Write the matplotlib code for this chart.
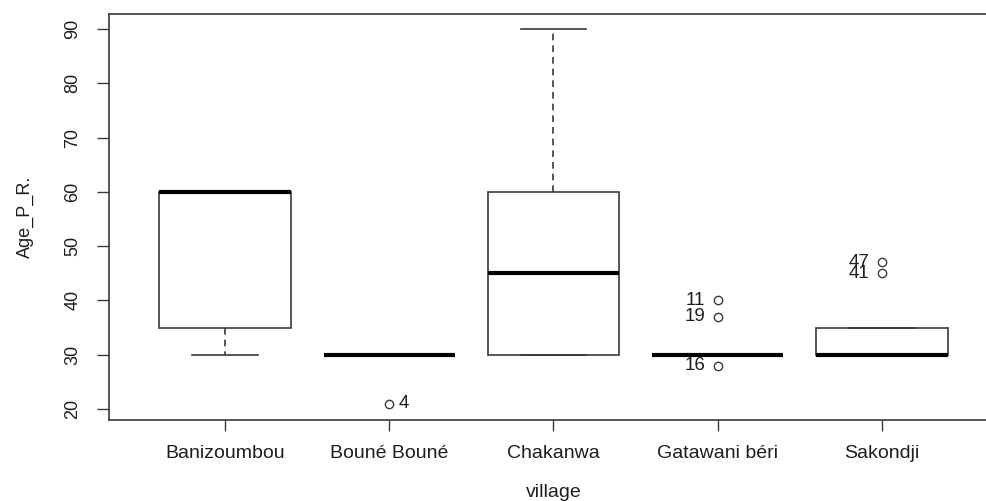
import matplotlib
matplotlib.use("Agg")
import matplotlib.pyplot as plt

plt.rcParams["font.family"] = ["Liberation Sans", "DejaVu Sans"]

# per-village summary of Age_P_R.
villages = ["Banizoumbou", "Bouné Bouné", "Chakanwa", "Gatawani béri", "Sakondji"]
q1 = [35, 30, 30, 30, 30]
med = [60, 30, 45, 30, 30]
q3 = [60, 30, 60, 30, 35]
whis_lo = [30, 30, 30, 30, 30]
whis_hi = [60, 30, 90, 30, 35]

# outliers: (village index, value, row id)
out_village = [1, 3, 3, 3, 4, 4]
out_value = [21, 40, 37, 28, 47, 45]
out_id = ["4", "11", "19", "16", "47", "41"]
out_side = ["right", "left", "left", "left", "left", "left"]

line_col = "#3a3a3a"
text_col = "#1e1e1e"

fig = plt.figure(figsize=(9.87, 5.01), dpi=100)
ax = fig.add_axes([109 / 987, 81 / 501, 889 / 987, 406 / 501])

stats = []
for i, name in enumerate(villages):
    fl = [v for v, k in zip(out_value, out_village) if k == i]
    stats.append(dict(label=name, q1=q1[i], med=med[i], q3=q3[i],
                      whislo=whis_lo[i], whishi=whis_hi[i], fliers=fl))

ax.bxp(stats, positions=range(1, 6), widths=0.8, patch_artist=True,
       boxprops=dict(facecolor="white", edgecolor=line_col, linewidth=1.2),
       medianprops=dict(color="black", linewidth=3, solid_capstyle="butt"),
       whiskerprops=dict(color=line_col, linewidth=1.2, linestyle=(0, (4, 3))),
       capprops=dict(color=line_col, linewidth=1.2),
       capwidths=0.4,
       flierprops=dict(marker="o", markersize=6, markerfacecolor="none",
                       markeredgecolor=line_col, markeredgewidth=1))

for k, v, lab, side in zip(out_village, out_value, out_id, out_side):
    dx = 7 if side == "right" else -9
    ax.annotate(lab, (k + 1, v), xytext=(dx, 0), textcoords="offset points",
                ha="left" if side == "right" else "right", va="center",
                fontsize=13.5, color=text_col)

ax.set_xlim(0.294, 5.706)
ax.set_ylim(17.97, 92.76)
ax.set_yticks([20, 30, 40, 50, 60, 70, 80, 90])
ax.set_yticklabels(["20", "30", "40", "50", "60", "70", "80", "90"],
                   rotation=90, va="center")
ax.set_xticks(range(1, 6))
ax.set_xticklabels(villages)

ax.tick_params(axis="y", length=9, width=1, color=line_col, pad=11,
               labelsize=13, labelcolor=text_col)
ax.tick_params(axis="x", length=8, width=1, color=line_col, pad=10,
               labelsize=14, labelcolor=text_col)
for s in ax.spines.values():
    s.set_color(line_col)
    s.set_linewidth(1.2)

ax.set_ylabel("Age_P_R.", fontsize=13, color=text_col, labelpad=22)
ax.set_xlabel("village", fontsize=14, color=text_col, labelpad=16)

fig.savefig("out.png", dpi=100)
